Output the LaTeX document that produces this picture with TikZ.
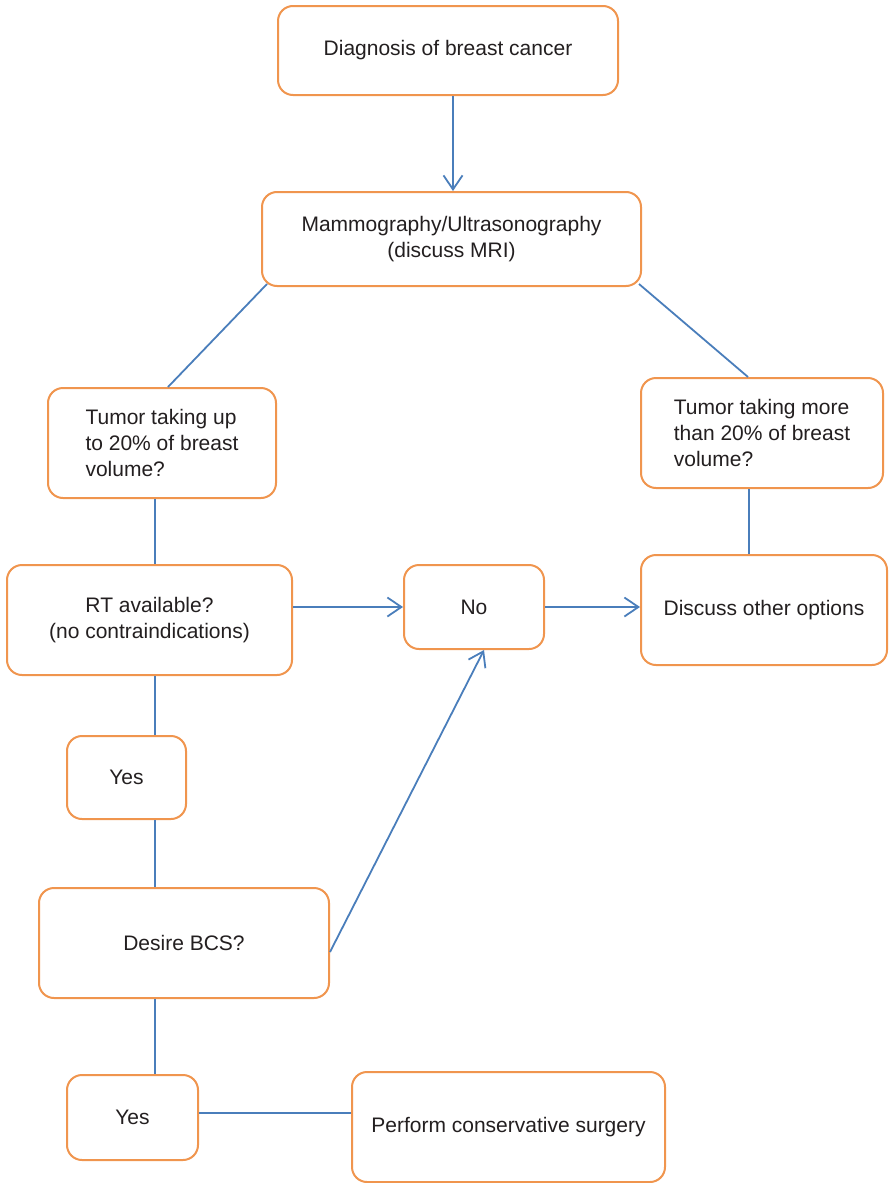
\documentclass[tikz,border=0pt]{standalone}
\usepackage{fontspec}
\setmainfont{Liberation Sans}
\usetikzlibrary{arrows.meta,calc}
\definecolor{boxorange}{HTML}{F0954E}
\definecolor{lineblue}{HTML}{4A7EBB}
\definecolor{txt}{HTML}{231F20}
\begin{document}
\begin{tikzpicture}[x=1pt,y=1pt,
  box/.style={draw=boxorange,line width=2pt,rounded corners=15pt,fill=white,
    inner sep=0pt,text=txt,font=\fontsize{21}{26}\selectfont},
  conn/.style={draw=lineblue,line width=1.8pt},
  arr/.style={conn,-{Straight Barb[length=14pt,width=19pt,line width=1.8pt]}}]
\useasboundingbox (0,0) rectangle (889,-1183);
\node[box,minimum width=340,minimum height=89,align=center] (dx) at (448,-50.5) {Diagnosis of breast cancer};
\node[box,minimum width=379,minimum height=94,align=center] (mam) at (451.5,-239) {Mammography/Ultrasonography\\(discuss MRI)};
\node[box,minimum width=228,minimum height=110,align=left] (tup) at (162,-443) {Tumor taking up\\to 20\% of breast\\volume?};
\node[box,minimum width=242,minimum height=110,align=left] (tmore) at (762,-433) {Tumor taking more\\than 20\% of breast\\volume?};
\node[box,minimum width=285,minimum height=110,align=center] (rt) at (149.5,-620) {RT available?\\(no contraindications)};
\node[box,minimum width=140,minimum height=84,align=center] (no) at (474,-607) {No};
\node[box,minimum width=246,minimum height=110,align=center] (dis) at (764,-610) {Discuss other options};
\node[box,minimum width=119,minimum height=83,align=center] (yesa) at (126.5,-777.5) {Yes};
\node[box,minimum width=290,minimum height=110,align=center] (bcs) at (184,-943) {Desire BCS?};
\node[box,minimum width=131,minimum height=85,align=center] (yesb) at (132.5,-1117.5) {Yes};
\node[box,minimum width=313,minimum height=110,align=center] (surg) at (508.5,-1127) {Perform conservative surgery};
\coordinate (vl) at (155,0);
\coordinate (vr) at (749,0);
\coordinate (vm) at (453,0);
\coordinate (yb) at ($(yesb.east)+(0,4.5)$);
% connectors
\draw[arr] (dx.south -| vm) -- (mam.north -| vm);
\draw[conn] ($(mam.south west)+(6,3)$) -- ($(tup.north)+(6,0)$);
\draw[conn] ($(mam.south east)+(-3,3)$) -- ($(tmore.north)+(-14,0)$);
\draw[conn] (tup.south -| vl) -- (rt.north -| vl);
\draw[conn] (tmore.south -| vr) -- (dis.north -| vr);
\draw[arr] (rt.east |- no.west) -- (no.west);
\draw[arr] (no.east) -- (no.east -| dis.west);
\draw[conn] (rt.south -| vl) -- (yesa.north -| vl);
\draw[conn] (yesa.south -| vl) -- (bcs.north -| vl);
\draw[arr] ($(bcs.east)+(0,-9)$) -- ($(no.south)+(10,0)$);
\draw[conn] (bcs.south -| vl) -- (yesb.north -| vl);
\draw[conn] (yb) -- (yb -| surg.west);
\end{tikzpicture}
\end{document}
